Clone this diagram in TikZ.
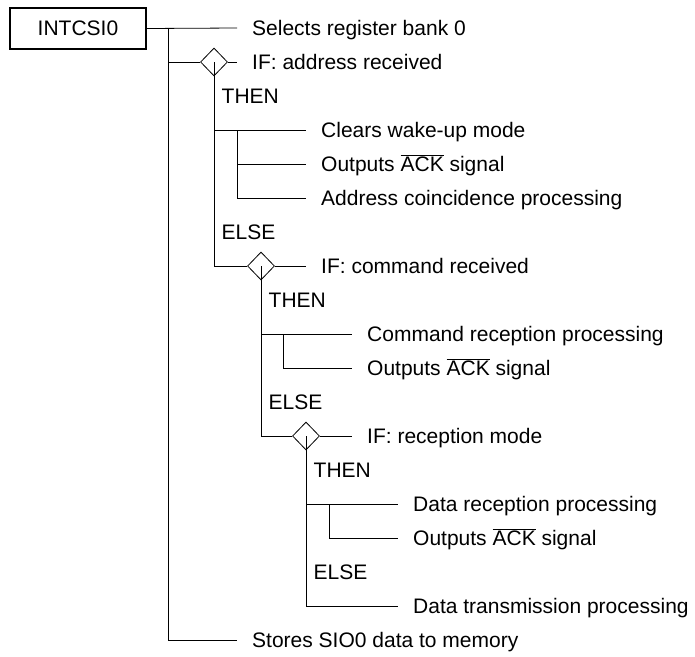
\documentclass[tikz,border=0pt]{standalone}
\usepackage{fontspec}
\setmainfont{Liberation Sans}
\usetikzlibrary{shapes.geometric}

\tikzset{
  ln/.style={line width=0.8pt},
  txt/.style={anchor=west, inner xsep=15pt, inner ysep=0pt, text height=15pt, text depth=0pt},
  tag/.style={anchor=west, inner xsep=7.5pt, inner ysep=0pt, text height=15pt, text depth=0pt},
  cond/.style={diamond, draw, line width=0.8pt, minimum width=27pt, minimum height=28pt, inner sep=0pt},
  head/.style={draw, line width=1.6pt, minimum width=136pt, minimum height=41pt, inner sep=0pt}
}
\newcommand{\ack}{$\overline{\mbox{ACK}}$}

\begin{document}
\begin{tikzpicture}[x=1pt, y=-1pt, font=\fontsize{21}{25}\selectfont]
    \useasboundingbox (0,0) rectangle (695,656);

    % interrupt routine box
    \node[head] (box) at (78,28.5) {INTCSI0};

    % first level
    \node[txt] (s0) at (237,28) {Selects register bank 0};
    \node[cond] (d1) at (214,62) {};
    \node[txt] (if1) at (237,62) {IF: address received};
    \node[tag] (t1) at (214,96) {THEN};
    \node[txt] (a1) at (306,130) {Clears wake-up mode};
    \node[txt] (a2) at (306,164) {Outputs \ack{} signal};
    \node[txt] (a3) at (306,198) {Address coincidence processing};
    \node[tag] (e1) at (214,232) {ELSE};

    % second level
    \node[cond] (d2) at (261,266) {};
    \node[txt] (if2) at (306,266) {IF: command received};
    \node[tag] (t2) at (261,300) {THEN};
    \node[txt] (b1) at (352,334) {Command reception processing};
    \node[txt] (b2) at (352,368) {Outputs \ack{} signal};
    \node[tag] (e2) at (261,402) {ELSE};

    % third level
    \node[cond] (d3) at (306,436) {};
    \node[txt] (if3) at (352,436) {IF: reception mode};
    \node[tag] (t3) at (306,470) {THEN};
    \node[txt] (c1) at (398,504) {Data reception processing};
    \node[txt] (c2) at (398,538) {Outputs \ack{} signal};
    \node[tag] (e3) at (306,572) {ELSE};
    \node[txt] (c3) at (398,606) {Data transmission processing};

    \node[txt] (s1) at (237,640) {Stores SIO0 data to memory};

    % branch points
    \coordinate (m0) at (168,28);
    \coordinate (k1) at (237,130);
    \coordinate (k2) at (283,334);
    \coordinate (k3) at (329,504);

    % main spine
    \draw[ln] (box.east) -- (s0.west);
    \draw[ln] (m0) |- (s1.west);
    \draw[ln] (m0 |- d1) -- (d1.west);
    \draw[ln] (d1.east) -- (if1.west);

    % address branch
    \draw[ln] (d1.center) |- (d2.west);
    \draw[ln] (d1 |- a1.west) -- (a1.west);
    \draw[ln] (k1) |- (a3.west);
    \draw[ln] (k1 |- a2.west) -- (a2.west);

    % command branch
    \draw[ln] (d2.east) -- (if2.west);
    \draw[ln] (d2.center) |- (d3.west);
    \draw[ln] (d2 |- b1.west) -- (b1.west);
    \draw[ln] (k2) |- (b2.west);

    % reception branch
    \draw[ln] (d3.east) -- (if3.west);
    \draw[ln] (d3.center) |- (c3.west);
    \draw[ln] (d3 |- c1.west) -- (c1.west);
    \draw[ln] (k3) |- (c2.west);
\end{tikzpicture}
\end{document}
